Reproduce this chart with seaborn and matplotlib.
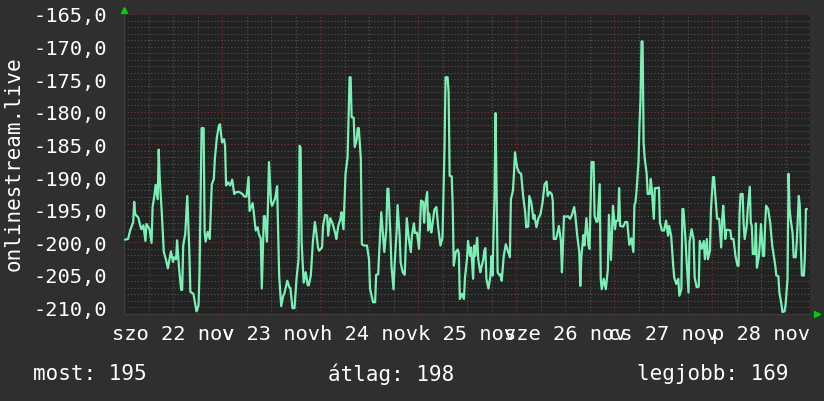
import matplotlib
matplotlib.use("Agg")
import matplotlib.dates as mdates
import matplotlib.pyplot as plt
import matplotlib.ticker as mticker
import matplotlib.transforms as mtransforms
import numpy as np
import pandas as pd
import seaborn as sns

# Data (15 minute steps from the start of szo 22 nov)
start = "2025-11-22 00:00"
quarter_hours = [
    1, 4, 6, 9, 10, 11, 14, 16, 17, 19, 21, 22, 24, 25, 27, 28, 30, 31, 33, 34,
    35, 37, 39, 41, 43, 44, 46, 48, 49, 51, 52, 54, 56, 57, 58, 60, 62, 64, 65, 68,
    70, 71, 73, 74, 76, 78, 79, 80, 82, 84, 86, 88, 89, 91, 93, 94, 96, 98, 99, 100,
    102, 104, 106, 108, 110, 113, 116, 118, 120, 122, 123, 126, 127, 129, 131, 132, 134, 135, 137, 138,
    140, 141, 142, 144, 145, 148, 150, 152, 154, 156, 157, 160, 162, 163, 165, 167, 169, 171, 172, 173,
    174, 176, 178, 180, 181, 183, 185, 187, 188, 190, 191, 194, 195, 197, 199, 200, 202, 204, 205, 207,
    208, 210, 212, 213, 215, 217, 219, 220, 221, 222, 223, 225, 226, 228, 229, 230, 232, 233, 235, 238,
    240, 241, 244, 246, 247, 249, 250, 252, 254, 255, 257, 258, 259, 261, 262, 264, 265, 267, 268, 270,
    271, 273, 275, 277, 279, 281, 282, 284, 285, 287, 289, 291, 293, 294, 295, 297, 298, 299, 301, 302,
    304, 306, 308, 310, 312, 313, 314, 315, 317, 318, 319, 321, 322, 323, 325, 327, 328, 329, 331, 333,
    334, 336, 337, 339, 340, 342, 343, 344, 346, 347, 349, 350, 352, 353, 354, 355, 357, 359, 360, 361,
    363, 364, 365, 366, 368, 369, 370, 372, 374, 376, 378, 379, 381, 382, 383, 385, 387, 389, 391, 393,
    394, 396, 397, 399, 401, 402, 404, 406, 408, 410, 412, 414, 415, 417, 419, 420, 421, 423, 424, 426,
    428, 429, 430, 431, 433, 435, 437, 439, 441, 442, 444, 446, 447, 448, 450, 451, 453, 455, 456, 458,
    460, 461, 463, 464, 466, 467, 468, 470, 472, 474, 475, 477, 479, 481, 482, 484, 485, 486, 489, 491,
    493, 495, 497, 499, 500, 501, 502, 504, 505, 506, 507, 508, 509, 510, 512, 513, 515, 516, 517, 519,
    520, 522, 524, 525, 527, 529, 531, 533, 534, 536, 538, 539, 541, 543, 544, 546, 547, 548, 550, 551,
    553, 554, 556, 558, 559, 561, 563, 564, 566, 568, 569, 571, 572, 574, 575, 577, 578, 579, 581, 583,
    585, 586, 587, 589, 590, 592, 594, 595, 597, 599, 601, 602, 603, 604, 606, 607, 608, 610, 611, 613,
    614, 615, 616, 618, 619, 620, 622, 623, 624, 626, 627, 628, 629, 631, 633, 635, 636, 638, 639, 641,
    642, 644, 645, 647, 648, 650, 651, 652, 653, 655, 656, 658, 659, 661, 662, 663, 664, 666, 667, 668,
    669,
]
signal = [
    -199.6, -199.5, -198.2, -196.9, -193.8, -195.7, -196.2, -197.5, -198.0, -197.4, -199.8, -197.2, -197.7, -198.0, -200.1, -194.6, -192.6, -191.2, -193.4, -185.8,
    -190.3, -195.4, -201.5, -202.6, -204.0, -203.1, -201.4, -203.0, -202.3, -202.6, -199.7, -204.1, -207.3, -207.3, -200.5, -198.7, -192.9, -201.5, -207.6, -207.9,
    -209.7, -210.6, -209.7, -204.6, -182.5, -182.5, -198.5, -199.9, -198.4, -199.5, -191.1, -190.3, -187.2, -183.9, -182.1, -181.9, -184.7, -184.2, -185.2, -191.3,
    -190.8, -191.3, -190.4, -192.6, -192.3, -192.3, -192.6, -193.0, -193.0, -190.0, -195.2, -194.0, -195.3, -198.2, -197.7, -198.7, -199.5, -207.1, -196.0, -196.0,
    -199.9, -194.4, -187.7, -193.8, -194.4, -193.3, -191.4, -205.2, -209.8, -208.2, -207.9, -205.9, -206.9, -207.0, -210.1, -210.1, -205.6, -202.6, -185.2, -185.5,
    -200.0, -206.2, -204.6, -206.6, -206.6, -205.1, -200.0, -196.9, -198.0, -200.8, -201.3, -200.8, -197.5, -195.8, -195.9, -199.0, -196.3, -197.0, -197.5, -198.7,
    -199.5, -197.4, -196.4, -195.4, -198.0, -189.5, -187.0, -181.1, -174.7, -174.7, -180.8, -180.9, -185.4, -184.2, -182.5, -182.5, -187.2, -200.3, -200.5, -200.5,
    -202.6, -207.1, -209.2, -209.2, -205.0, -204.9, -201.5, -195.4, -199.5, -201.5, -198.0, -191.8, -191.8, -199.0, -203.6, -207.2, -203.6, -198.5, -194.3, -199.0,
    -203.1, -204.6, -205.0, -196.3, -199.5, -201.5, -199.0, -197.1, -198.6, -198.5, -201.0, -193.6, -193.8, -197.0, -194.4, -192.3, -198.2, -195.6, -198.5, -197.5,
    -195.0, -194.6, -198.0, -200.5, -199.3, -192.1, -185.2, -174.7, -174.7, -177.0, -189.8, -189.9, -194.4, -203.6, -201.5, -201.1, -201.7, -208.7, -207.9, -208.7,
    -205.4, -202.6, -199.8, -202.1, -200.8, -205.6, -200.5, -202.1, -199.3, -202.6, -204.6, -203.9, -202.6, -201.3, -200.9, -205.6, -207.1, -205.1, -202.1, -205.1,
    -192.3, -180.2, -192.3, -204.6, -205.1, -204.9, -205.9, -202.1, -200.3, -201.3, -202.3, -193.4, -192.1, -189.5, -186.2, -188.5, -189.3, -189.5, -192.9, -195.4,
    -197.7, -197.6, -192.9, -193.9, -196.4, -195.8, -197.7, -196.3, -195.7, -193.9, -191.1, -190.7, -192.9, -192.3, -192.6, -193.6, -199.5, -199.5, -199.0, -197.5,
    -199.8, -204.6, -200.3, -196.0, -196.1, -196.0, -196.4, -195.7, -194.6, -195.7, -199.0, -201.5, -206.7, -202.3, -198.9, -200.5, -196.3, -200.5, -201.0, -187.7,
    -187.7, -196.0, -196.9, -196.8, -191.1, -205.6, -207.2, -205.6, -207.2, -204.1, -195.8, -202.7, -194.4, -198.0, -196.7, -196.7, -191.7, -197.5, -197.6, -196.9,
    -196.9, -200.4, -199.4, -201.5, -194.3, -193.9, -192.3, -187.7, -181.9, -178.0, -169.2, -169.2, -184.7, -187.0, -189.5, -192.6, -192.6, -190.3, -191.8, -196.4,
    -191.7, -191.7, -191.6, -197.0, -198.2, -198.2, -196.7, -199.0, -197.5, -199.0, -203.6, -205.4, -206.4, -205.6, -208.2, -207.2, -194.9, -194.9, -199.5, -202.5,
    -207.7, -200.0, -198.0, -199.5, -205.4, -206.9, -206.8, -199.8, -201.0, -199.8, -202.6, -199.5, -202.6, -201.3, -194.9, -190.0, -190.0, -192.3, -196.4, -196.4,
    -200.8, -196.4, -194.4, -199.5, -198.1, -198.1, -198.2, -199.5, -199.5, -202.1, -203.6, -203.6, -195.4, -192.6, -192.6, -197.2, -199.5, -197.5, -194.9, -191.5,
    -197.0, -197.5, -201.8, -201.8, -197.1, -203.9, -202.1, -199.8, -197.2, -202.1, -202.1, -197.5, -194.4, -194.9, -197.0, -200.5, -201.5, -203.6, -205.1, -205.2,
    -207.7, -209.5, -210.7, -210.6, -209.7, -205.6, -189.5, -194.9, -196.4, -198.7, -202.3, -202.3, -200.0, -192.9, -194.4, -200.5, -205.1, -205.1, -202.1, -194.9,
    -194.9,
]
day_labels = ["szo 22 nov", "v 23 nov", "h 24 nov", "k 25 nov", "sze 26 nov", "cs 27 nov", "p 28 nov"]
y_label = "onlinestream.live"
summary = ["most: 195", "átlag: 198", "legjobb: 169"]

df = pd.DataFrame({
    "time": pd.Timestamp(start) + pd.to_timedelta(np.array(quarter_hours) * 15, unit="min"),
    "signal": signal,
})
days = pd.date_range(start, periods=len(day_labels) + 1, freq="D")

# Colours of the rrd dark theme
outer_bg = "#2f2f2f"
plot_bg = "#222222"
line_color = "#7af0b6"
minor_grid = "#555555"
major_grid = "#773333"
arrow_color = "#00d000"

sns.set_theme(style="dark")
plt.rcParams["font.family"] = ["DejaVu Sans Mono", "DejaVu Sans"]

fig = plt.figure(figsize=(8.24, 4.02), dpi=100, facecolor=outer_bg)
ax = fig.add_axes([124 / 824, 1 - 315 / 402, 686 / 824, 300 / 402])
ax.set_facecolor(plot_bg)

sns.lineplot(data=df, x="time", y="signal", ax=ax, color=line_color, linewidth=1.6, zorder=5)

ax.set_xlim(days[0], days[-1])
ax.set_ylim(-211, -165)

# Grid: gray every unit / 6 hours, red every 5 units / day
ax.yaxis.set_major_locator(mticker.MultipleLocator(5))
ax.yaxis.set_minor_locator(mticker.MultipleLocator(1))
ax.yaxis.set_major_formatter(mticker.FuncFormatter(lambda v, _: f"{v:.1f}".replace(".", ",")))
ax.xaxis.set_major_locator(mdates.DayLocator())
ax.xaxis.set_minor_locator(mdates.HourLocator(byhour=[6, 12, 18]))
ax.xaxis.set_major_formatter(mticker.NullFormatter())
ax.grid(which="minor", color=minor_grid, linestyle=(0, (1, 2)), linewidth=0.8)
ax.grid(which="major", color=major_grid, linestyle=(0, (1, 2)), linewidth=0.8)
ax.set_axisbelow(True)

ax.tick_params(axis="y", which="both", length=0, pad=12, labelcolor="white", labelsize=14.7)
ax.tick_params(axis="x", which="both", length=0)
for side in ["top", "right"]:
    ax.spines[side].set_visible(False)
for side in ["left", "bottom"]:
    ax.spines[side].set_color("#3c3c3c")
    ax.spines[side].set_linewidth(1)

ax.set_xlabel("")
ax.set_ylabel("")

# Day labels centred at noon, overlapping like rrdtool draws them
trans = mtransforms.blended_transform_factory(ax.transData, ax.transAxes)
for day, label in zip(days[:-1], day_labels):
    ax.text(day + pd.Timedelta(hours=12), -0.035, label, transform=trans, ha="center", va="top",
            color="white", fontsize=14.7)

# Axis arrows
ax.plot([0], [1.015], marker="^", markersize=5, color=arrow_color, transform=ax.transAxes, clip_on=False)
ax.plot([1.01], [0.0], marker=">", markersize=5, color=arrow_color, transform=ax.transAxes, clip_on=False)

fig.text(14 / 824, 1 - 164 / 402, y_label, rotation=90, ha="center", va="center", color="white", fontsize=15)

fig.text(33 / 824, 1 - 374 / 402, summary[0], ha="left", va="center", color="white", fontsize=15)
fig.text(328 / 824, 1 - 374 / 402, summary[1], ha="left", va="center", color="white", fontsize=15)
fig.text(637 / 824, 1 - 374 / 402, summary[2], ha="left", va="center", color="white", fontsize=15)

fig.savefig("out.png", dpi=100, facecolor=outer_bg)
